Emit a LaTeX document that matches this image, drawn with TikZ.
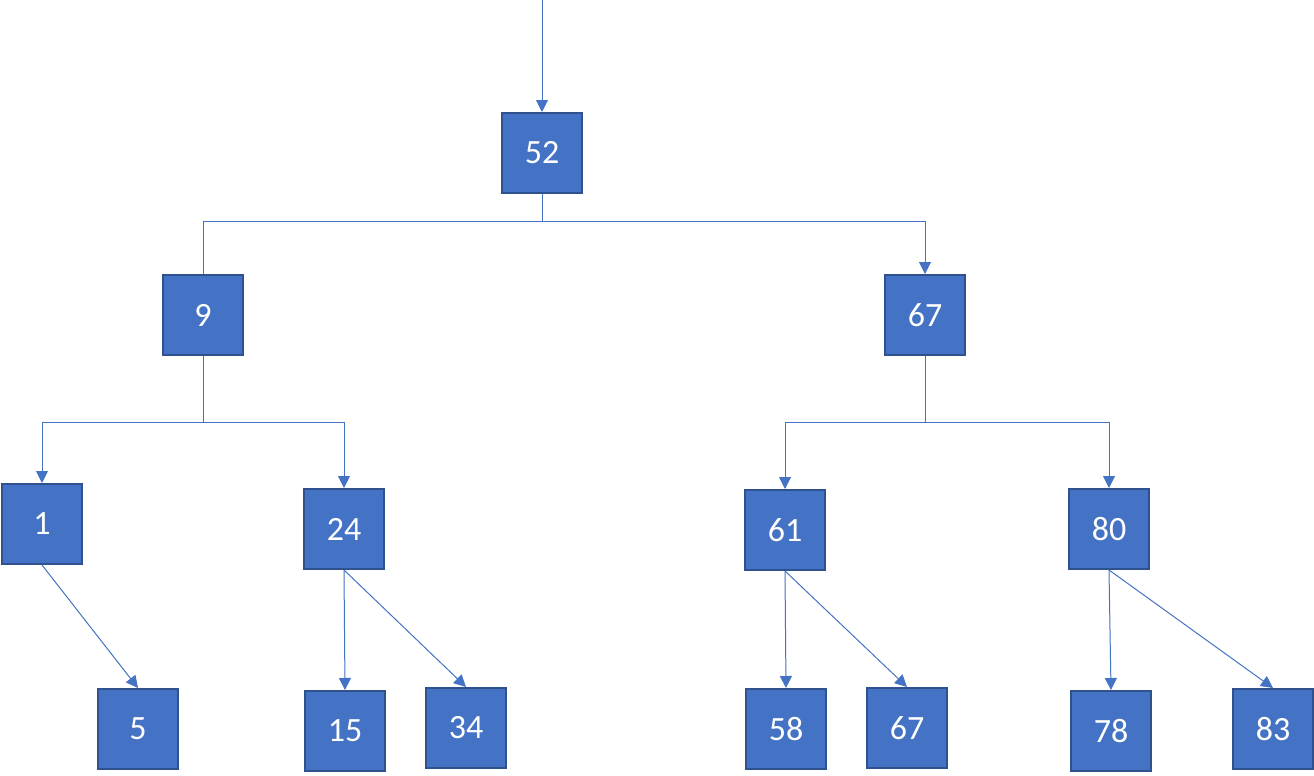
\documentclass[tikz,border=0pt]{standalone}
\usepackage{fontspec}
\setmainfont{Carlito}
\usepackage{tikz}
\usetikzlibrary{arrows.meta,positioning}
\definecolor{boxfill}{HTML}{4472C4}
\definecolor{boxline}{HTML}{2F528F}
\definecolor{linkcol}{HTML}{4472C4}

\begin{document}
\begin{tikzpicture}[
  x=0.5pt, y=-0.5pt,
  font=\fontsize{17}{20}\selectfont,
  key/.style={draw=boxline, line width=1pt, fill=boxfill, text=white,
              minimum size=40pt, inner sep=0pt, anchor=center},
  ln/.style={draw=linkcol, line width=0.5pt},
  ar/.style={ln, -{Triangle[length=6pt,width=6pt]}}]
\useasboundingbox (0,0) rectangle (1314,776);

% --- root and second level
\node[key] (n52) at (542,153) {52};
\node[key] (n9)  at (203,315) {9};
\node[key] (n67) at (925,315) {67};

% --- third level
\node[key] (n1)  at (42,524)   {1};
\node[key] (n24) at (344,529)  {24};
\node[key] (n61) at (785,530)  {61};
\node[key] (n80) at (1109,529) {80};

% --- leaves
\node[key] (n5)   at (138,729)  {5};
\node[key] (n15)  at (345,731)  {15};
\node[key] (n34)  at (466,728)  {34};
\node[key] (n58)  at (786,729)  {58};
\node[key] (n67b) at (907,728)  {67};
\node[key] (n78)  at (1111,731) {78};
\node[key] (n83)  at (1273,729) {83};

\coordinate (top) at (542,0);
\coordinate (j52) at (542,221);
\coordinate (j9)  at (203,422);
\coordinate (j67) at (925,422);

\draw[ar] (top) -- (n52.north);
\draw[ln] (n52.south) -- (j52) -| (n9.north);
\draw[ar] (j52) -| (n67.north);
\draw[ln] (n9.south) -- (j9);
\draw[ar] (j9) -| (n1.north); \draw[ar] (j9) -| (n24.north);
\draw[ln] (n67.south) -- (j67);
\draw[ar] (j67) -| (n61.north); \draw[ar] (j67) -| (n80.north);
\draw[ar] (n1.south) -- (n5.north);
\draw[ar] (n24.south) -- (n15.north); \draw[ar] (n24.south) -- (n34.north);
\draw[ar] (n61.south) -- (n58.north); \draw[ar] (n61.south) -- (n67b.north);
\draw[ar] (n80.south) -- (n78.north); \draw[ar] (n80.south) -- (n83.north);
\end{tikzpicture}
\end{document}
